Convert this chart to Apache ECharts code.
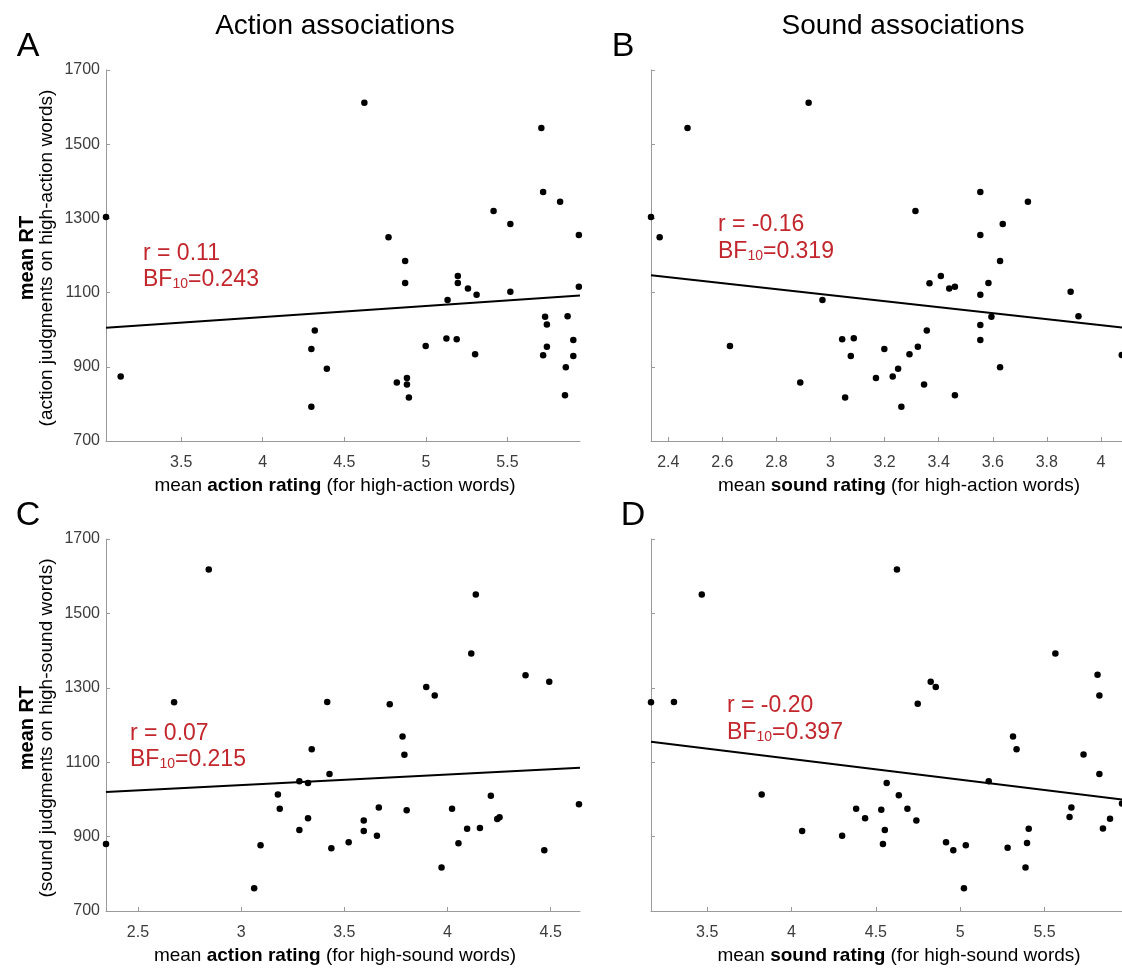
<!DOCTYPE html>
<html>
<head>
<meta charset="utf-8">
<script src="https://cdn.jsdelivr.net/npm/echarts@6/dist/echarts.min.js"></script>
<style>
html,body{margin:0;padding:0;background:#fff;}
#chart{width:1122px;height:972px;}
</style>
</head>
<body>
<div id="chart"></div>
<script>
// ---- Panel A: action rating vs RT (high-action words)
const xA = [4.623, 3.039, 3.129, 5.708, 5.719, 5.823, 5.415, 5.518, 5.938, 4.771, 4.873, 4.873, 5.196, 5.196, 5.258, 5.311, 5.518, 5.938, 5.133, 4.319, 4.298, 4.393, 4.298, 4.822, 4.884, 4.884, 4.896, 4.999, 5.126, 5.189, 5.302, 5.731, 5.742, 5.742, 5.719, 5.869, 5.904, 5.904, 5.858, 5.853];
const yA = [1612, 1304, 874, 1544, 1371, 1345, 1320, 1285, 1255, 1249, 1185, 1126, 1145, 1126, 1111, 1094, 1102, 1116, 1080, 998, 948, 895, 792, 858, 870, 852, 817, 956, 976, 974, 934, 1035, 1014, 954, 931, 1036, 972, 929, 899, 823];
// ---- Panel B: sound rating vs RT (high-action words)
const xB = [2.919, 2.471, 2.336, 2.368, 3.554, 3.730, 3.314, 3.637, 3.554, 3.627, 3.408, 3.366, 3.584, 3.439, 3.460, 3.888, 3.554, 2.970, 3.917, 3.595, 3.554, 3.356, 3.554, 3.043, 3.086, 2.628, 3.199, 3.075, 3.323, 3.292, 3.250, 3.230, 3.168, 3.346, 3.627, 2.888, 3.054, 3.460, 3.262, 4.077];
const yB = [1612, 1544, 1304, 1249, 1371, 1345, 1320, 1285, 1255, 1185, 1145, 1125, 1126, 1111, 1116, 1102, 1094, 1080, 1036, 1035, 1013, 998, 972, 974, 977, 956, 948, 929, 954, 934, 895, 874, 870, 852, 899, 858, 817, 823, 792, 932];
// ---- Panel C: action rating vs RT (high-sound words)
const xC = [2.843, 4.137, 4.115, 4.378, 4.493, 3.897, 3.938, 2.675, 3.417, 3.720, 3.782, 3.791, 3.342, 3.428, 3.282, 3.324, 3.178, 3.187, 3.324, 3.282, 2.345, 3.094, 3.063, 3.437, 3.521, 3.594, 3.594, 3.658, 3.667, 3.802, 4.022, 3.971, 4.053, 4.095, 4.157, 4.210, 4.241, 4.252, 4.469, 4.637];
const yC = [1618, 1551, 1392, 1334, 1316, 1302, 1279, 1261, 1262, 1256, 1169, 1120, 1135, 1068, 1049, 1044, 1013, 975, 949, 918, 880, 877, 761, 869, 885, 943, 915, 902, 978, 971, 975, 817, 882, 921, 923, 1010, 947, 952, 863, 987];
// ---- Panel D: sound rating vs RT (high-sound words)
const xD = [4.625, 3.468, 5.564, 5.814, 5.825, 4.825, 4.855, 3.167, 3.303, 4.748, 5.313, 5.334, 5.731, 5.825, 5.169, 4.564, 3.823, 4.636, 4.383, 4.532, 4.687, 4.436, 4.740, 4.553, 4.063, 4.300, 4.542, 4.916, 4.959, 5.033, 5.022, 5.281, 5.396, 5.406, 5.387, 5.659, 5.648, 5.846, 5.888, 5.959];
const yD = [1618, 1551, 1392, 1335, 1279, 1316, 1302, 1261, 1262, 1257, 1169, 1135, 1121, 1068, 1049, 1044, 1013, 1011, 975, 972, 975, 949, 943, 918, 915, 902, 880, 885, 863, 877, 761, 870, 883, 921, 817, 978, 953, 922, 948, 989];

// x-axis extents (data range) per panel
const rangeA = [3.039, 5.945];
const rangeB = [2.336, 4.078];
const rangeC = [2.345, 4.642];
const rangeD = [3.167, 5.959];
// regression line values at the left and right axis extents
const fitA = [1005, 1092];
const fitB = [1147, 1006];
const fitC = [1020, 1085];
const fitD = [1155, 1000];

// tick labels
const ticksA = [3.5, 4, 4.5, 5, 5.5];
const ticksB = [2.4, 2.6, 2.8, 3, 3.2, 3.4, 3.6, 3.8, 4];
const ticksC = [2.5, 3, 3.5, 4, 4.5];
const ticksD = [3.5, 4, 4.5, 5, 5.5];
const ticksY = [700, 900, 1100, 1300, 1500, 1700];
const yRange = [700, 1700];

// texts
const stats = [
  {r: 'r = 0.11', bf: '0.243'},
  {r: 'r = -0.16', bf: '0.319'},
  {r: 'r = 0.07', bf: '0.215'},
  {r: 'r = -0.20', bf: '0.397'}
];
const colTitles = ['Action associations', 'Sound associations'];
const panelLetters = ['A', 'B', 'C', 'D'];
const xTitles = [
  ['action rating', 'high-action'],
  ['sound rating', 'high-action'],
  ['action rating', 'high-sound'],
  ['sound rating', 'high-sound']
];
const yTitles = ['(action judgments on high-action words)', '(sound judgments on high-sound words)'];

const FONT = "'Liberation Sans', Arial, Helvetica, sans-serif";
const RED = '#c1272d';
const AXIS = '#9a9a9a';
const LABEL = '#3c3c3c';

const grids = [
  {left: 106, top: 70, width: 474, height: 371},
  {left: 651, top: 70, width: 471, height: 371},
  {left: 106, top: 539, width: 474, height: 372},
  {left: 651, top: 539, width: 471, height: 372}
];
const ranges = [rangeA, rangeB, rangeC, rangeD];
const ticks = [ticksA, ticksB, ticksC, ticksD];
const xs = [xA, xB, xC, xD];
const ys = [yA, yB, yC, yD];
const fits = [fitA, fitB, fitC, fitD];

const plain = v => String(+v.toFixed(3));

const xAxes = ranges.map((rg, i) => ({
  type: 'value', gridIndex: i, min: rg[0], max: rg[1],
  axisLine: {show: true, onZero: false, lineStyle: {color: AXIS, width: 1}},
  axisTick: {show: true, inside: true, length: 4, customValues: ticks[i], lineStyle: {color: AXIS}},
  axisLabel: {show: true, customValues: ticks[i], formatter: plain, color: LABEL, fontSize: 16, fontFamily: FONT, margin: 14},
  splitLine: {show: false}
}));
const yAxes = grids.map((g, i) => ({
  type: 'value', gridIndex: i, min: yRange[0], max: yRange[1],
  axisLine: {show: true, onZero: false, lineStyle: {color: AXIS, width: 1}},
  axisTick: {show: true, inside: true, length: 4, customValues: ticksY, lineStyle: {color: AXIS}},
  axisLabel: {show: i % 2 === 0, customValues: ticksY, formatter: plain, color: LABEL, fontSize: 16, fontFamily: FONT, margin: 6},
  splitLine: {show: false}
}));

const series = [];
for (let i = 0; i < 4; i++) {
  series.push({
    type: 'line', xAxisIndex: i, yAxisIndex: i,
    data: [[ranges[i][0], fits[i][0]], [ranges[i][1], fits[i][1]]],
    showSymbol: false, symbol: 'none',
    lineStyle: {color: '#000', width: 2}, silent: true, z: 2
  });
  series.push({
    type: 'scatter', xAxisIndex: i, yAxisIndex: i,
    data: xs[i].map((x, k) => [x, ys[i][k]]),
    symbol: 'circle', symbolSize: 6.5,
    itemStyle: {color: '#000', opacity: 1}, silent: true, z: 3
  });
}

const graphic = [];
// column titles
[[335, colTitles[0]], [903, colTitles[1]]].forEach(([x, t]) => {
  graphic.push({type: 'text', x: x, y: 26, style: {text: t, font: '28px ' + FONT, fill: '#000', align: 'center', verticalAlign: 'middle'}});
});
// panel letters
[[28, 47], [623, 47], [28, 516], [633, 516]].forEach(([x, y], i) => {
  graphic.push({type: 'text', x: x, y: y, style: {text: panelLetters[i], font: '34px ' + FONT, fill: '#000', align: 'center', verticalAlign: 'middle'}});
});
// x-axis titles
const xTitlePos = [[335, 486], [899, 486], [335, 956], [899, 956]];
xTitlePos.forEach(([x, y], i) => {
  graphic.push({type: 'text', x: x, y: y, style: {
    text: '{n|mean }{b|' + xTitles[i][0] + '}{n| (for ' + xTitles[i][1] + ' words)}',
    align: 'center', verticalAlign: 'middle',
    rich: {
      n: {fontSize: 19, fontFamily: FONT, fill: '#000', color: '#000'},
      b: {fontSize: 19, fontFamily: FONT, fontWeight: 'bold', fill: '#000', color: '#000'}
    }
  }});
});
// y-axis titles (rotated)
[[258, 0], [728, 1]].forEach(([y, k]) => {
  graphic.push({type: 'text', x: 27, y: y, rotation: Math.PI / 2, style: {text: 'mean RT', font: 'bold 20px ' + FONT, fill: '#000', align: 'center', verticalAlign: 'middle'}});
  graphic.push({type: 'text', x: 47, y: y, rotation: Math.PI / 2, style: {text: yTitles[k], font: '19px ' + FONT, fill: '#000', align: 'center', verticalAlign: 'middle'}});
});
// statistics annotations
const statPos = [[143, 254, 280], [718, 225, 252], [130, 734, 760], [727, 706, 733]];
statPos.forEach(([x, y1, y2], i) => {
  graphic.push({type: 'text', x: x, y: y1, style: {text: stats[i].r, font: '23px ' + FONT, fill: RED, align: 'left', verticalAlign: 'middle'}});
  graphic.push({type: 'text', x: x, y: y2, style: {
    text: '{m|BF}{s|10}{m|=' + stats[i].bf + '}',
    align: 'left', verticalAlign: 'middle',
    rich: {
      m: {fontSize: 23, fontFamily: FONT, fill: RED, color: RED, verticalAlign: 'bottom'},
      s: {fontSize: 14, fontFamily: FONT, fill: RED, color: RED, verticalAlign: 'bottom'}
    }
  }});
});

const chart = echarts.init(document.getElementById('chart'), null, {renderer: 'canvas'});
chart.setOption({
  animation: false,
  backgroundColor: '#fff',
  grid: grids,
  xAxis: xAxes,
  yAxis: yAxes,
  series: series,
  graphic: graphic
});
</script>
</body>
</html>
